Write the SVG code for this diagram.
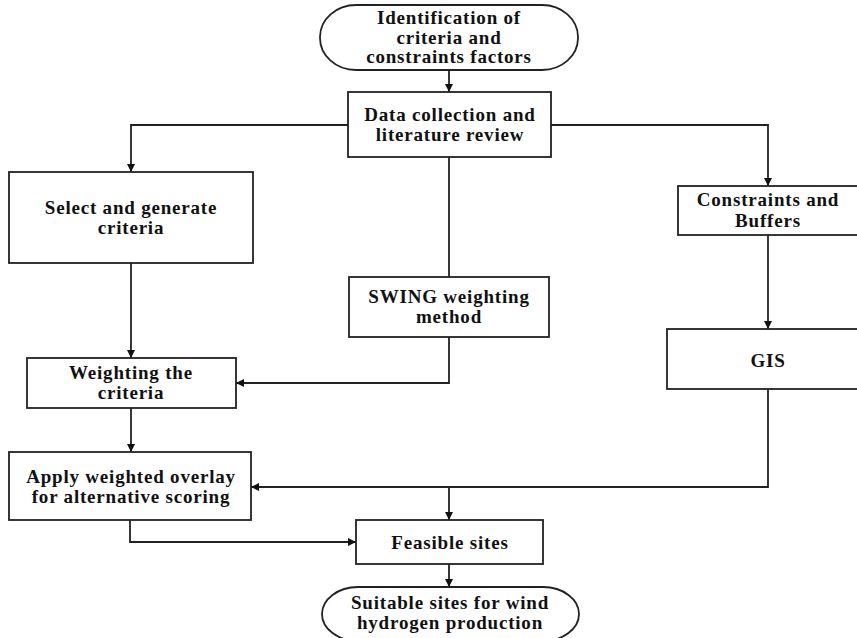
<svg xmlns="http://www.w3.org/2000/svg" width="857" height="638" viewBox="0 0 857 638">
<style>
  .box { fill: #ffffff; stroke: #222222; stroke-width: 1.8; }
  .lbl { font-family: "Liberation Serif", "Times New Roman", serif; font-weight: bold; font-size: 19px; letter-spacing: 0.8px; text-anchor: middle; fill: #111111; }
  .conn { fill: none; stroke: #222222; stroke-width: 1.8; }
</style>
<defs>
  <marker id="arr" viewBox="0 0 10 10" refX="10" refY="5" markerUnits="userSpaceOnUse" markerWidth="9" markerHeight="8" orient="auto">
    <path d="M0,0 L10,5 L0,10 z" fill="#111111"/>
  </marker>
</defs>
<rect width="857" height="638" fill="#ffffff"/>

<g id="connectors">
  <path class="conn" d="M449,70 L449,92" marker-end="url(#arr)"/>
  <path class="conn" d="M348,125 L131,125 L131,172" marker-end="url(#arr)"/>
  <path class="conn" d="M551,125 L768,125 L768,186" marker-end="url(#arr)"/>
  <path class="conn" d="M449,157 L449,277"/>
  <path class="conn" d="M131,263 L131,358" marker-end="url(#arr)"/>
  <path class="conn" d="M449,337 L449,383 L236,383" marker-end="url(#arr)"/>
  <path class="conn" d="M131,408 L131,452" marker-end="url(#arr)"/>
  <path class="conn" d="M768,235 L768,329" marker-end="url(#arr)"/>
  <path class="conn" d="M768,389 L768,487 L251,487" marker-end="url(#arr)"/>
  <path class="conn" d="M449,487 L449,520" marker-end="url(#arr)"/>
  <path class="conn" d="M130,520 L130,542 L356,542" marker-end="url(#arr)"/>
  <path class="conn" d="M449,564 L449,587" marker-end="url(#arr)"/>
</g>

<g id="start">
  <rect class="box" x="320" y="5" width="258" height="65" rx="36" ry="32"/>
  <text class="lbl" x="449" y="24">Identification of</text>
  <text class="lbl" x="449" y="44">criteria and</text>
  <text class="lbl" x="449" y="63">constraints factors</text>
</g>

<g id="data">
  <rect class="box" x="348" y="92" width="203" height="65"/>
  <text class="lbl" x="450" y="121">Data collection and</text>
  <text class="lbl" x="450" y="141">literature review</text>
</g>

<g id="select">
  <rect class="box" x="9" y="172" width="244" height="91"/>
  <text class="lbl" x="131" y="214">Select and generate</text>
  <text class="lbl" x="131" y="234">criteria</text>
</g>

<g id="swing">
  <rect class="box" x="349" y="277" width="200" height="60"/>
  <text class="lbl" x="449" y="303">SWING weighting</text>
  <text class="lbl" x="449" y="323">method</text>
</g>

<g id="constraints">
  <rect class="box" x="678" y="186" width="185" height="49"/>
  <text class="lbl" x="768" y="206">Constraints and</text>
  <text class="lbl" x="768" y="227">Buffers</text>
</g>

<g id="gis">
  <rect class="box" x="667" y="329" width="200" height="60"/>
  <text class="lbl" x="768" y="367">GIS</text>
</g>

<g id="weighting">
  <rect class="box" x="27" y="358" width="209" height="50"/>
  <text class="lbl" x="131" y="379">Weighting the</text>
  <text class="lbl" x="131" y="399">criteria</text>
</g>

<g id="apply">
  <rect class="box" x="9" y="452" width="242" height="68"/>
  <text class="lbl" x="131" y="483">Apply weighted overlay</text>
  <text class="lbl" x="131" y="503">for alternative scoring</text>
</g>

<g id="feasible">
  <rect class="box" x="356" y="520" width="187" height="44"/>
  <text class="lbl" x="450" y="549">Feasible sites</text>
</g>

<g id="end">
  <rect class="box" x="322" y="587" width="257" height="54" rx="36" ry="27"/>
  <text class="lbl" x="450" y="609">Suitable sites for wind</text>
  <text class="lbl" x="450" y="629">hydrogen production</text>
</g>
</svg>
